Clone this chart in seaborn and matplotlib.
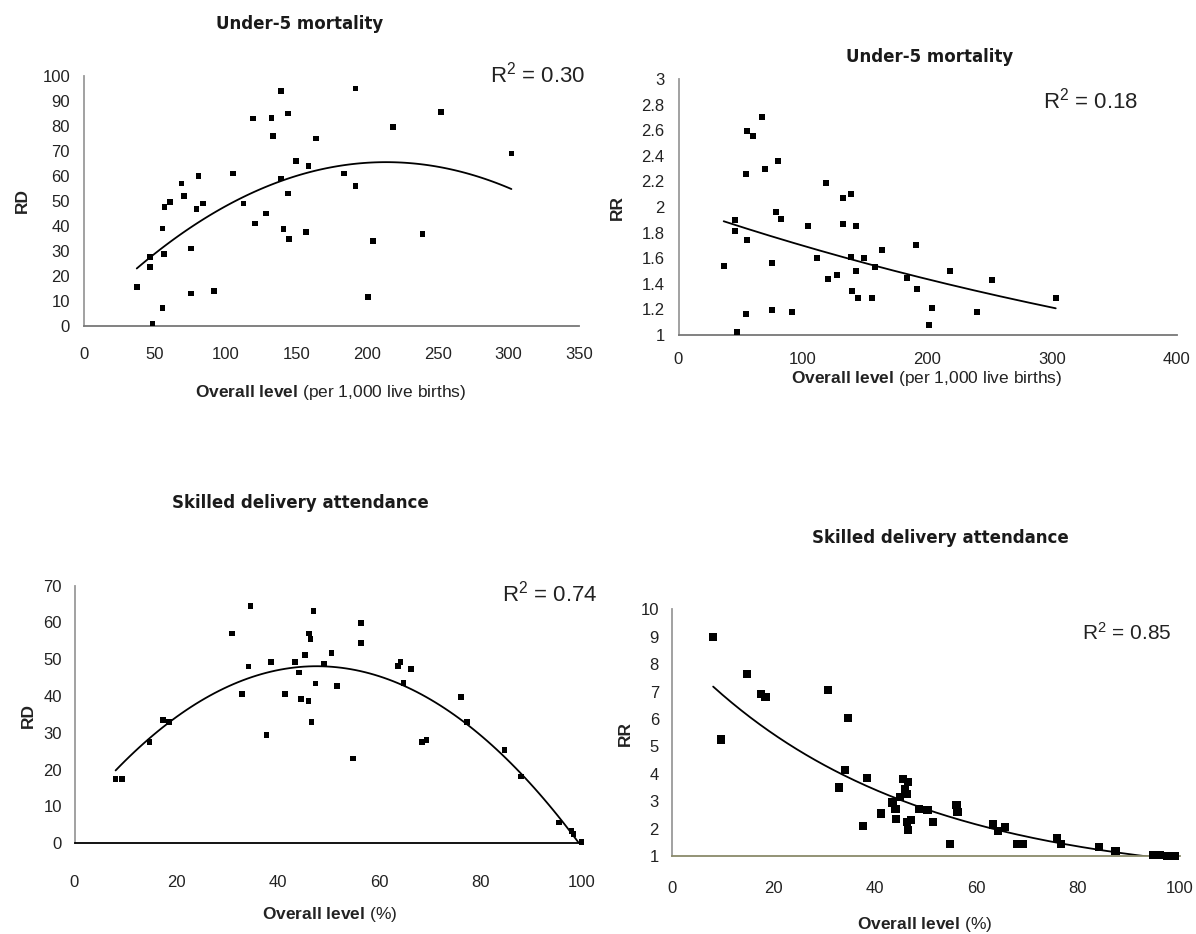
import numpy as np
import pandas as pd
import seaborn as sns
import matplotlib
matplotlib.use("Agg")
import matplotlib.pyplot as plt

# ---------------- data ----------------
u5_rd_x = [37.3, 46.5, 46.5, 48.3, 55.4, 55.4, 56.6, 57.0, 61.0, 68.8, 70.7, 75.7, 75.7, 79.4, 81.1,
           84.2, 92.1, 105.4, 112.9, 119.3, 120.9, 128.5, 132.5, 133.5, 139.3, 139.3, 141.2, 144.3,
           144.3, 145.0, 150.0, 156.8, 158.6, 164.0, 184.0, 191.9, 192.1, 201.0, 204.2, 218.3,
           239.2, 252.5, 302.2]
u5_rd_y = [15.6, 23.7, 27.5, 1.0, 7.3, 39.0, 28.8, 47.5, 49.6, 57.0, 52.0, 31.0, 13.0, 46.7, 60.0,
           49.0, 14.0, 61.0, 49.0, 83.0, 41.0, 45.0, 83.3, 76.0, 94.0, 59.0, 38.7, 85.0,
           53.0, 34.7, 66.0, 37.6, 64.0, 75.0, 61.0, 95.0, 56.0, 11.7, 34.0, 79.6,
           36.7, 85.5, 69.0]

u5_rr_x = [36.3, 45.2, 45.2, 46.8, 54.0, 54.0, 55.0, 55.0, 60.1, 67.3, 69.5, 75.1, 75.1, 78.1, 79.7,
           82.6, 91.2, 104.0, 111.5, 118.3, 119.9, 127.6, 132.2, 132.2, 138.4, 138.4, 139.6, 142.9,
           142.9, 144.0, 149.3, 155.7, 157.9, 163.3, 183.4, 190.8, 191.9, 201.0, 203.9, 218.1,
           239.6, 252.1, 303.0]
u5_rr_y = [1.537, 1.896, 1.81, 1.02, 2.26, 1.164, 2.596, 1.745, 2.557, 2.70, 2.30, 1.565, 1.193, 1.96, 2.36,
           1.906, 1.18, 1.85, 1.60, 2.19, 1.44, 1.466, 2.07, 1.867, 2.10, 1.607, 1.346, 1.85,
           1.50, 1.29, 1.60, 1.29, 1.53, 1.666, 1.445, 1.70, 1.357, 1.078, 1.21, 1.50,
           1.18, 1.43, 1.29]

sba_rd_x = [8.1, 9.4, 14.8, 17.4, 18.6, 31.0, 33.0, 34.3, 34.7, 37.8, 38.7, 41.5, 43.5, 44.2, 44.6,
            45.4, 46.2, 46.5, 46.1, 46.7, 47.1, 47.5, 49.2, 50.6, 51.7, 54.9, 56.4, 56.4, 63.7,
            64.2, 64.8, 66.3, 68.5, 69.4, 76.2, 77.3, 84.7, 88.0, 95.5, 97.9, 98.3, 99.9]
sba_rd_y = [17.4, 17.4, 27.6, 33.5, 33.0, 57.0, 40.6, 48.1, 64.5, 29.4, 49.3, 40.6, 49.3, 46.4, 39.2,
            51.2, 57.0, 55.5, 38.7, 32.9, 63.1, 43.4, 48.8, 51.7, 42.8, 23.1, 59.8, 54.4, 48.2,
            49.2, 43.5, 47.3, 27.6, 28.1, 39.8, 33.0, 25.3, 18.1, 5.6, 3.4, 2.5, 0.4]

sba_rr_x = [8.2, 9.8, 14.9, 17.7, 18.5, 30.8, 33.0, 34.2, 34.7, 37.7, 38.5, 41.3, 43.5, 44.1, 44.2,
            45.0, 45.6, 46.5, 46.0, 46.3, 46.3, 47.1, 46.6, 48.8, 50.4, 51.4, 54.8, 56.1, 56.3,
            63.3, 64.2, 65.7, 68.0, 69.1, 75.8, 76.7, 84.2, 87.4, 94.8, 96.2, 97.6, 99.1]
sba_rr_y = [9.0, 5.25, 7.65, 6.9, 6.8, 7.05, 3.5, 4.15, 6.05, 2.1, 3.85, 2.55, 2.95, 2.7, 2.35,
            3.15, 3.8, 3.7, 3.45, 3.25, 2.25, 2.3, 1.95, 2.7, 2.68, 2.25, 1.45, 2.85, 2.6,
            2.15, 1.9, 2.05, 1.45, 1.45, 1.65, 1.45, 1.32, 1.18, 1.05, 1.03, 1.0, 1.0]

titles = ["Under-5 mortality", "Under-5 mortality",
          "Skilled delivery attendance", "Skilled delivery attendance"]
r2_labels = ["0.30", "0.18", "0.74", "0.85"]
y_labels = ["RD", "RR", "RD", "RR"]
x_labels = [r"$\mathbf{Overall\ level}$ (per 1,000 live births)",
            r"$\mathbf{Overall\ level}$ (per 1,000 live births)",
            r"$\mathbf{Overall\ level}$ (%)",
            r"$\mathbf{Overall\ level}$ (%)"]

p1_xticks = [0, 50, 100, 150, 200, 250, 300, 350]
p1_yticks = [0, 10, 20, 30, 40, 50, 60, 70, 80, 90, 100]
p2_xticks = [0, 100, 200, 300, 400]
p2_yticks = [1, 1.2, 1.4, 1.6, 1.8, 2, 2.2, 2.4, 2.6, 2.8, 3]
p2_yticklabels = ["1", "1.2", "1.4", "1.6", "1.8", "2", "2.2", "2.4", "2.6", "2.8", "3"]
p3_xticks = [0, 20, 40, 60, 80, 100]
p3_yticks = [0, 10, 20, 30, 40, 50, 60, 70]
p4_xticks = [0, 20, 40, 60, 80, 100]
p4_yticks = [1, 2, 3, 4, 5, 6, 7, 8, 9, 10]

# ---------------- style ----------------
sns.set_theme(style="white")
plt.rcParams["font.family"] = ["Liberation Sans", "DejaVu Sans"]
plt.rcParams["mathtext.fontset"] = "custom"
plt.rcParams["mathtext.rm"] = "Liberation Sans"
plt.rcParams["mathtext.bf"] = "Liberation Sans:bold"
plt.rcParams["mathtext.it"] = "Liberation Sans:italic"

W, H = 1196, 934
fig = plt.figure(figsize=(W / 100, H / 100), dpi=100)


def ax_at(l, t, r, b):
    return fig.add_axes([l / W, 1 - b / H, (r - l) / W, (b - t) / H])


def fx(x):
    return x / W


def fy(y):
    return 1 - y / H


def style_axis(ax, xticks, yticks, xlim, ylim, xpad, ypad, ytl=None, bottom_color="#777777"):
    ax.set_xlim(*xlim)
    ax.set_ylim(*ylim)
    ax.set_xticks(xticks)
    ax.set_xticklabels([str(t) for t in xticks])
    ax.set_yticks(yticks)
    ax.set_yticklabels(ytl if ytl is not None else [str(t) for t in yticks])
    for s in ["top", "right"]:
        ax.spines[s].set_visible(False)
    ax.spines["left"].set_color("#9a9a9a")
    ax.spines["left"].set_linewidth(1.3)
    ax.spines["bottom"].set_color(bottom_color)
    ax.spines["bottom"].set_linewidth(1.3)
    ax.tick_params(axis="x", direction="inout", length=6, width=1, color="#777777",
                   labelsize=12, pad=xpad, labelcolor="#222222")
    ax.tick_params(axis="y", direction="out", length=4, width=1, color="#777777",
                   labelsize=12, pad=ypad, labelcolor="#222222")
    ax.set_xlabel("")
    ax.set_ylabel("")
    ax.grid(False)


def quad_fit(ax, x, y):
    sns.regplot(x=np.array(x), y=np.array(y), order=2, ci=None, scatter=False, truncate=True,
                color="black", line_kws={"linewidth": 1.3}, ax=ax)


def exp_fit(ax, x, y):
    x = np.array(x)
    y = np.array(y)
    b, a = np.polyfit(x, np.log(y), 1)
    gx = np.linspace(x.min(), x.max(), 200)
    sns.lineplot(x=gx, y=np.exp(a + b * gx), color="black", linewidth=1.3, ax=ax)


def points(ax, x, y, s):
    sns.scatterplot(x=x, y=y, marker="s", s=s, color="black", edgecolor="none",
                    linewidth=0, ax=ax, clip_on=False, zorder=3)


# Panel 1
ax1 = ax_at(84, 76, 579, 326)
points(ax1, u5_rd_x, u5_rd_y, 16)
quad_fit(ax1, u5_rd_x, u5_rd_y)
style_axis(ax1, p1_xticks, p1_yticks, (0, 350), (0, 100), 12, 6)

# Panel 2
ax2 = ax_at(678.5, 79, 1176.5, 335)
points(ax2, u5_rr_x, u5_rr_y, 18)
exp_fit(ax2, u5_rr_x, u5_rr_y)
style_axis(ax2, p2_xticks, p2_yticks, (0, 400), (1, 3), 9, 6, ytl=p2_yticklabels)

# Panel 3
ax3 = ax_at(74.5, 585.7, 582, 843.3)
points(ax3, sba_rd_x, sba_rd_y, 16)
quad_fit(ax3, sba_rd_x, sba_rd_y)
style_axis(ax3, p3_xticks, p3_yticks, (0, 100), (0, 70), 20, 5, bottom_color="black")

# Panel 4
ax4 = ax_at(671.5, 609.3, 1179.5, 856)
points(ax4, sba_rr_x, sba_rr_y, 34)
exp_fit(ax4, sba_rr_x, sba_rr_y)
style_axis(ax4, p4_xticks, p4_yticks, (0, 100), (1, 10), 15, 5, bottom_color="#8a8a6a")

# texts
title_pos = [(300, 24), (930, 57), (300, 503), (940, 538)]
for (tx, ty), t in zip(title_pos, titles):
    fig.text(fx(tx), fy(ty), t, ha="center", va="center", fontsize=12,
             fontweight="bold", family=["DejaVu Sans"], color="#1a1a1a")

r2_pos = [(490, 75, 16), (1043, 101, 16), (502, 594, 16), (1082, 633, 15)]
for (tx, ty, fs), r in zip(r2_pos, r2_labels):
    fig.text(fx(tx), fy(ty), r"R$^{\mathrm{2}}$ = " + r, ha="left", va="center",
             fontsize=fs, color="#222222")

ylab_pos = [(22, 200), (617, 207), (28, 715), (625, 733)]
for (tx, ty), t in zip(ylab_pos, y_labels):
    fig.text(fx(tx), fy(ty), t, ha="center", va="center", rotation=90, fontsize=12.5,
             fontweight="bold", color="#222222")

xlab_pos = [(331, 392), (927, 379), (330, 915), (925, 925)]
for (tx, ty), t in zip(xlab_pos, x_labels):
    fig.text(fx(tx), fy(ty), t, ha="center", va="center", fontsize=12.5, color="#222222")

fig.savefig("out.png", dpi=100, facecolor="white")
